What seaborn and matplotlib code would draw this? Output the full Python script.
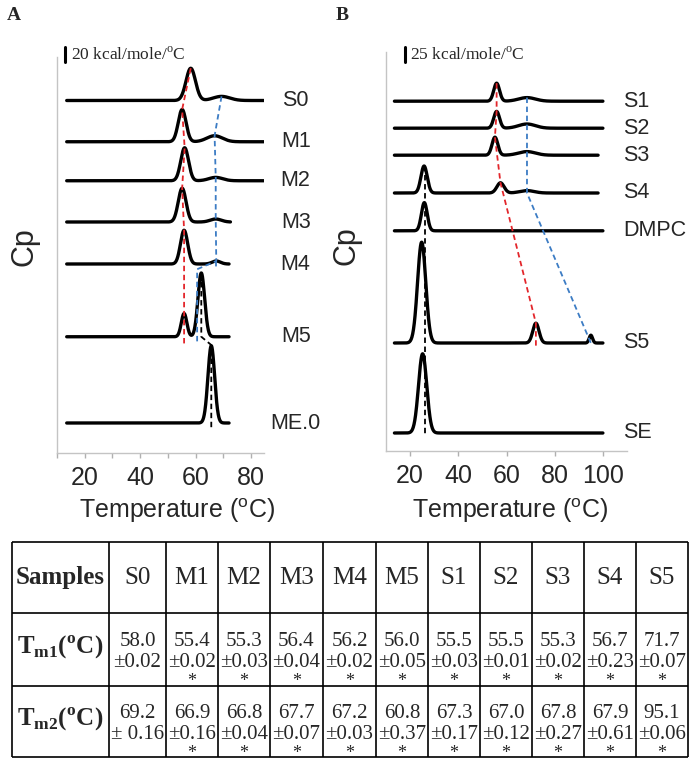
import numpy as np
import pandas as pd
import seaborn as sns
import matplotlib.pyplot as plt

sns.set_style("ticks")
plt.rcParams['font.family'] = ['Liberation Sans', 'DejaVu Sans']
plt.rcParams['mathtext.fontset'] = 'custom'
plt.rcParams['mathtext.rm'] = 'Liberation Serif'
plt.rcParams['mathtext.sf'] = 'Liberation Sans'
plt.rcParams['mathtext.bf'] = 'Liberation Serif:bold'

# ---- panel A: thermograms (Cp in kcal/mole/oC, stacked with offsets)
names_a = ["S0", "M1", "M2", "M3", "M4", "M5", "ME.0"]
offset_a = [470, 415, 363, 308, 252, 155, 40]
t_end_a = [84.5, 84.5, 84.5, 72.5, 72.0, 72.0, 72.0]
peak_t_a = [[58.2, 69.3], [55.1, 66.8], [56.0, 67.2], [55.1, 67.2], [55.8, 67.4], [55.8, 62.0], [65.6]]
peak_h_a = [[43, 5.5], [43, 8], [44, 4.5], [45, 4], [45, 4], [31, 85], [103]]
peak_w_a = [[1.7, 3.0], [1.4, 2.8], [1.4, 2.5], [1.4, 2.0], [1.3, 1.5], [1.0, 1.2], [1.2]]

# ---- panel B
names_b = ["S1", "S2", "S3", "S4", "DMPC", "S5", "SE"]
offset_b = [583, 538, 493, 430, 367, 180, 30]
t_end_b = [100, 100, 98, 98, 100, 100, 100]
peak_t_b = [[55.9, 68.5], [55.9, 68.5], [55.2, 68.5], [25.8, 57.5, 68.5], [25.9], [24.8, 72.2, 95.0], [25.2]]
peak_h_b = [[30, 6], [28, 7], [30, 6], [45, 17, 4], [47], [168, 33, 13], [132]]
peak_w_b = [[1.2, 3.5], [1.2, 3.5], [1.2, 3.5], [1.3, 1.5, 3.0], [1.2], [1.7, 1.3, 0.7], [1.7]]

# ---- table
samples = ["S0", "M1", "M2", "M3", "M4", "M5", "S1", "S2", "S3", "S4", "S5"]
tm1 = ["58.0", "55.4", "55.3", "56.4", "56.2", "56.0", "55.5", "55.5", "55.3", "56.7", "71.7"]
tm1_err = ["±0.02", "±0.02", "±0.03", "±0.04", "±0.02", "±0.05", "±0.03", "±0.01", "±0.02", "±0.23", "±0.07"]
tm2 = ["69.2", "66.9", "66.8", "67.7", "67.2", "60.8", "67.3", "67.0", "67.8", "67.9", "95.1"]
tm2_err = ["± 0.16", "±0.16", "±0.04", "±0.07", "±0.03", "±0.37", "±0.17", "±0.12", "±0.27", "±0.61", "±0.06"]
signif = [False, True, True, True, True, True, True, True, True, True, True]


def build(names, offsets, t_end, pt, ph, pw):
    parts = []
    for n, off, te, ts, hs, ws in zip(names, offsets, t_end, pt, ph, pw):
        t = np.linspace(13.5, te, 800)
        cp = np.full_like(t, float(off))
        for c, h, w in zip(ts, hs, ws):
            cp += h * np.exp(-0.5 * ((t - c) / w) ** 2)
        parts.append(pd.DataFrame({"T": t, "Cp": cp, "sample": n}))
    return pd.concat(parts, ignore_index=True)


df_a = build(names_a, offset_a, t_end_a, peak_t_a, peak_h_a, peak_w_a)
df_b = build(names_b, offset_b, t_end_b, peak_t_b, peak_h_b, peak_w_b)

fig = plt.figure(figsize=(6.94, 7.62), dpi=100)
ax_a = fig.add_axes([57 / 694, 1 - 453 / 762, 207 / 694, 396 / 762])
ax_b = fig.add_axes([386 / 694, 1 - 451 / 762, 241 / 694, 399 / 762])

red, blue = "#e3262b", "#3c7cc4"
dash = dict(lw=1.3, dashes=(3, 2), zorder=5)

for ax, df in [(ax_a, df_a), (ax_b, df_b)]:
    sns.lineplot(data=df, x="T", y="Cp", units="sample", estimator=None,
                 color="black", lw=2.4, ax=ax, legend=False)

# guide lines through the peaks, panel A
top_a = lambda i, j: offset_a[i] + peak_h_a[i][j]
ax_a.plot([peak_t_a[i][0] for i in range(6)] + [peak_t_a[5][0]],
          [top_a(i, 0) for i in range(6)] + [offset_a[5] - 10], color=red, **dash)
ax_a.plot([peak_t_a[i][1] for i in range(5)] + [60.5, 60.5],
          [top_a(i, 1) for i in range(5)] + [offset_a[4] - 7, offset_a[5] - 8], color=blue, **dash)
ax_a.plot([peak_t_a[4][1], peak_t_a[4][1]], [top_a(4, 1), offset_a[4] - 7], color=blue, **dash)
ax_a.plot([peak_t_a[5][1], peak_t_a[5][1], peak_t_a[6][0], peak_t_a[6][0]],
          [top_a(5, 1), offset_a[5], offset_a[5] - 11, offset_a[6] - 7], color="black", **dash)

# panel B
top_b = lambda i, j: offset_b[i] + peak_h_b[i][j]
ax_b.plot([peak_t_b[0][0], peak_t_b[1][0], peak_t_b[2][0], peak_t_b[3][1], peak_t_b[5][1], peak_t_b[5][1]],
          [top_b(0, 0), top_b(1, 0), top_b(2, 0), top_b(3, 1), top_b(5, 1), offset_b[5] - 6], color=red, **dash)
ax_b.plot([peak_t_b[0][1], peak_t_b[3][2], peak_t_b[5][2]],
          [top_b(0, 1), offset_b[3], offset_b[5]], color=blue, **dash)
ax_b.plot([26.2, 26.2], [top_b(3, 0), offset_b[6] - 5], color="black", **dash)

for ax, names, offs, lx, ha in [(ax_a, names_a, offset_a, 96, "center"),
                                (ax_b, names_b, offset_b, 108.5, "left")]:
    for n, off in zip(names, offs):
        ax.text(lx, off, n, ha=ha, va="center", fontsize=15.5, clip_on=False)

# scale bars
ax_a.plot([12.8, 12.8], [521, 541], color="black", lw=2.2, clip_on=False)
ax_a.text(15.0, 531, "20 kcal/mole/$^{\\mathrm{o}}$C", family="Liberation Serif",
          fontsize=12.5, va="center", ha="left")
ax_b.plot([17.9, 17.9], [648, 673], color="black", lw=2.2, clip_on=False)
ax_b.text(20.0, 660, "25 kcal/mole/$^{\\mathrm{o}}$C", family="Liberation Serif",
          fontsize=12.5, va="center", ha="left")

ax_a.set_xlim(10, 84.6)
ax_a.set_ylim(0, 528)
ax_a.set_xticks([20, 40, 60, 80])
ax_a.set_xticks(np.arange(10, 90, 10), minor=True)
ax_b.set_xlim(10, 110)
ax_b.set_ylim(0, 665)
ax_b.set_xticks([20, 40, 60, 80, 100])

for ax in (ax_a, ax_b):
    sns.despine(ax=ax)
    ax.set_yticks([])
    for s in ("left", "bottom"):
        ax.spines[s].set_color("#c4c4c4")
        ax.spines[s].set_linewidth(1.0)
    ax.tick_params(axis="x", which="both", length=3.5, width=1, color="#b0b0b0",
                   labelsize=18, pad=6)
    ax.set_xlabel("Temperature ($^{\\mathsf{o}}$C)", fontsize=18)
    ax.set_ylabel("Cp", fontsize=22)

ax_a.xaxis.set_label_coords((177 - 57) / 207, -0.11)
ax_b.xaxis.set_label_coords((510 - 386) / 241, -0.115)
ax_a.yaxis.set_label_coords(-0.085, 0.52)
ax_b.yaxis.set_label_coords(-0.10, 0.514)

fig.text(13.5 / 694, 1 - 16 / 762, "A", family="Liberation Serif", weight="bold",
         fontsize=14, ha="center", va="center")
fig.text(342 / 694, 1 - 16 / 762, "B", family="Liberation Serif", weight="bold",
         fontsize=14, ha="center", va="center")

# ---- table drawn in pixel coordinates
col_edges = [12, 109, 166, 218, 270, 323, 376, 428, 480, 532, 584, 636, 688]
row_edges = [542, 613, 686, 757]
ax_t = fig.add_axes([0, 0, 1, 1])
ax_t.set_xlim(0, 694)
ax_t.set_ylim(762, 0)
ax_t.axis("off")
ax_t.vlines(col_edges, row_edges[0], row_edges[-1], color="black", lw=1.2)
ax_t.hlines(row_edges, col_edges[0], col_edges[-1], color="black", lw=1.2)

serif = dict(family="Liberation Serif", ha="center", va="center")
cx = [(a + b) / 2 for a, b in zip(col_edges[:-1], col_edges[1:])]
ry = [(a + b) / 2 for a, b in zip(row_edges[:-1], row_edges[1:])]
ax_t.text(cx[0], ry[0], "Samples", fontsize=18, weight="bold", **serif)
ax_t.text(cx[0], ry[1] - 2, "T$_{\\mathbf{m1}}$($^{\\mathbf{o}}$C)", fontsize=18, weight="bold", **serif)
ax_t.text(cx[0], ry[2] - 2, "T$_{\\mathbf{m2}}$($^{\\mathbf{o}}$C)", fontsize=18, weight="bold", **serif)
for k, s in enumerate(samples):
    x = cx[k + 1]
    ax_t.text(x, ry[0], s, fontsize=18, **serif)
    for r, vals, errs in [(1, tm1, tm1_err), (2, tm2, tm2_err)]:
        ax_t.text(x, ry[r] - 8, vals[k], fontsize=15, **serif)
        ax_t.text(x, ry[r] + 13, errs[k], fontsize=15, **serif)
        if signif[k]:
            ax_t.text(x, ry[r] + 23.5, "*", fontsize=13, family="Liberation Serif",
                      ha="center", va="top")

fig.savefig("out.png", dpi=100)
